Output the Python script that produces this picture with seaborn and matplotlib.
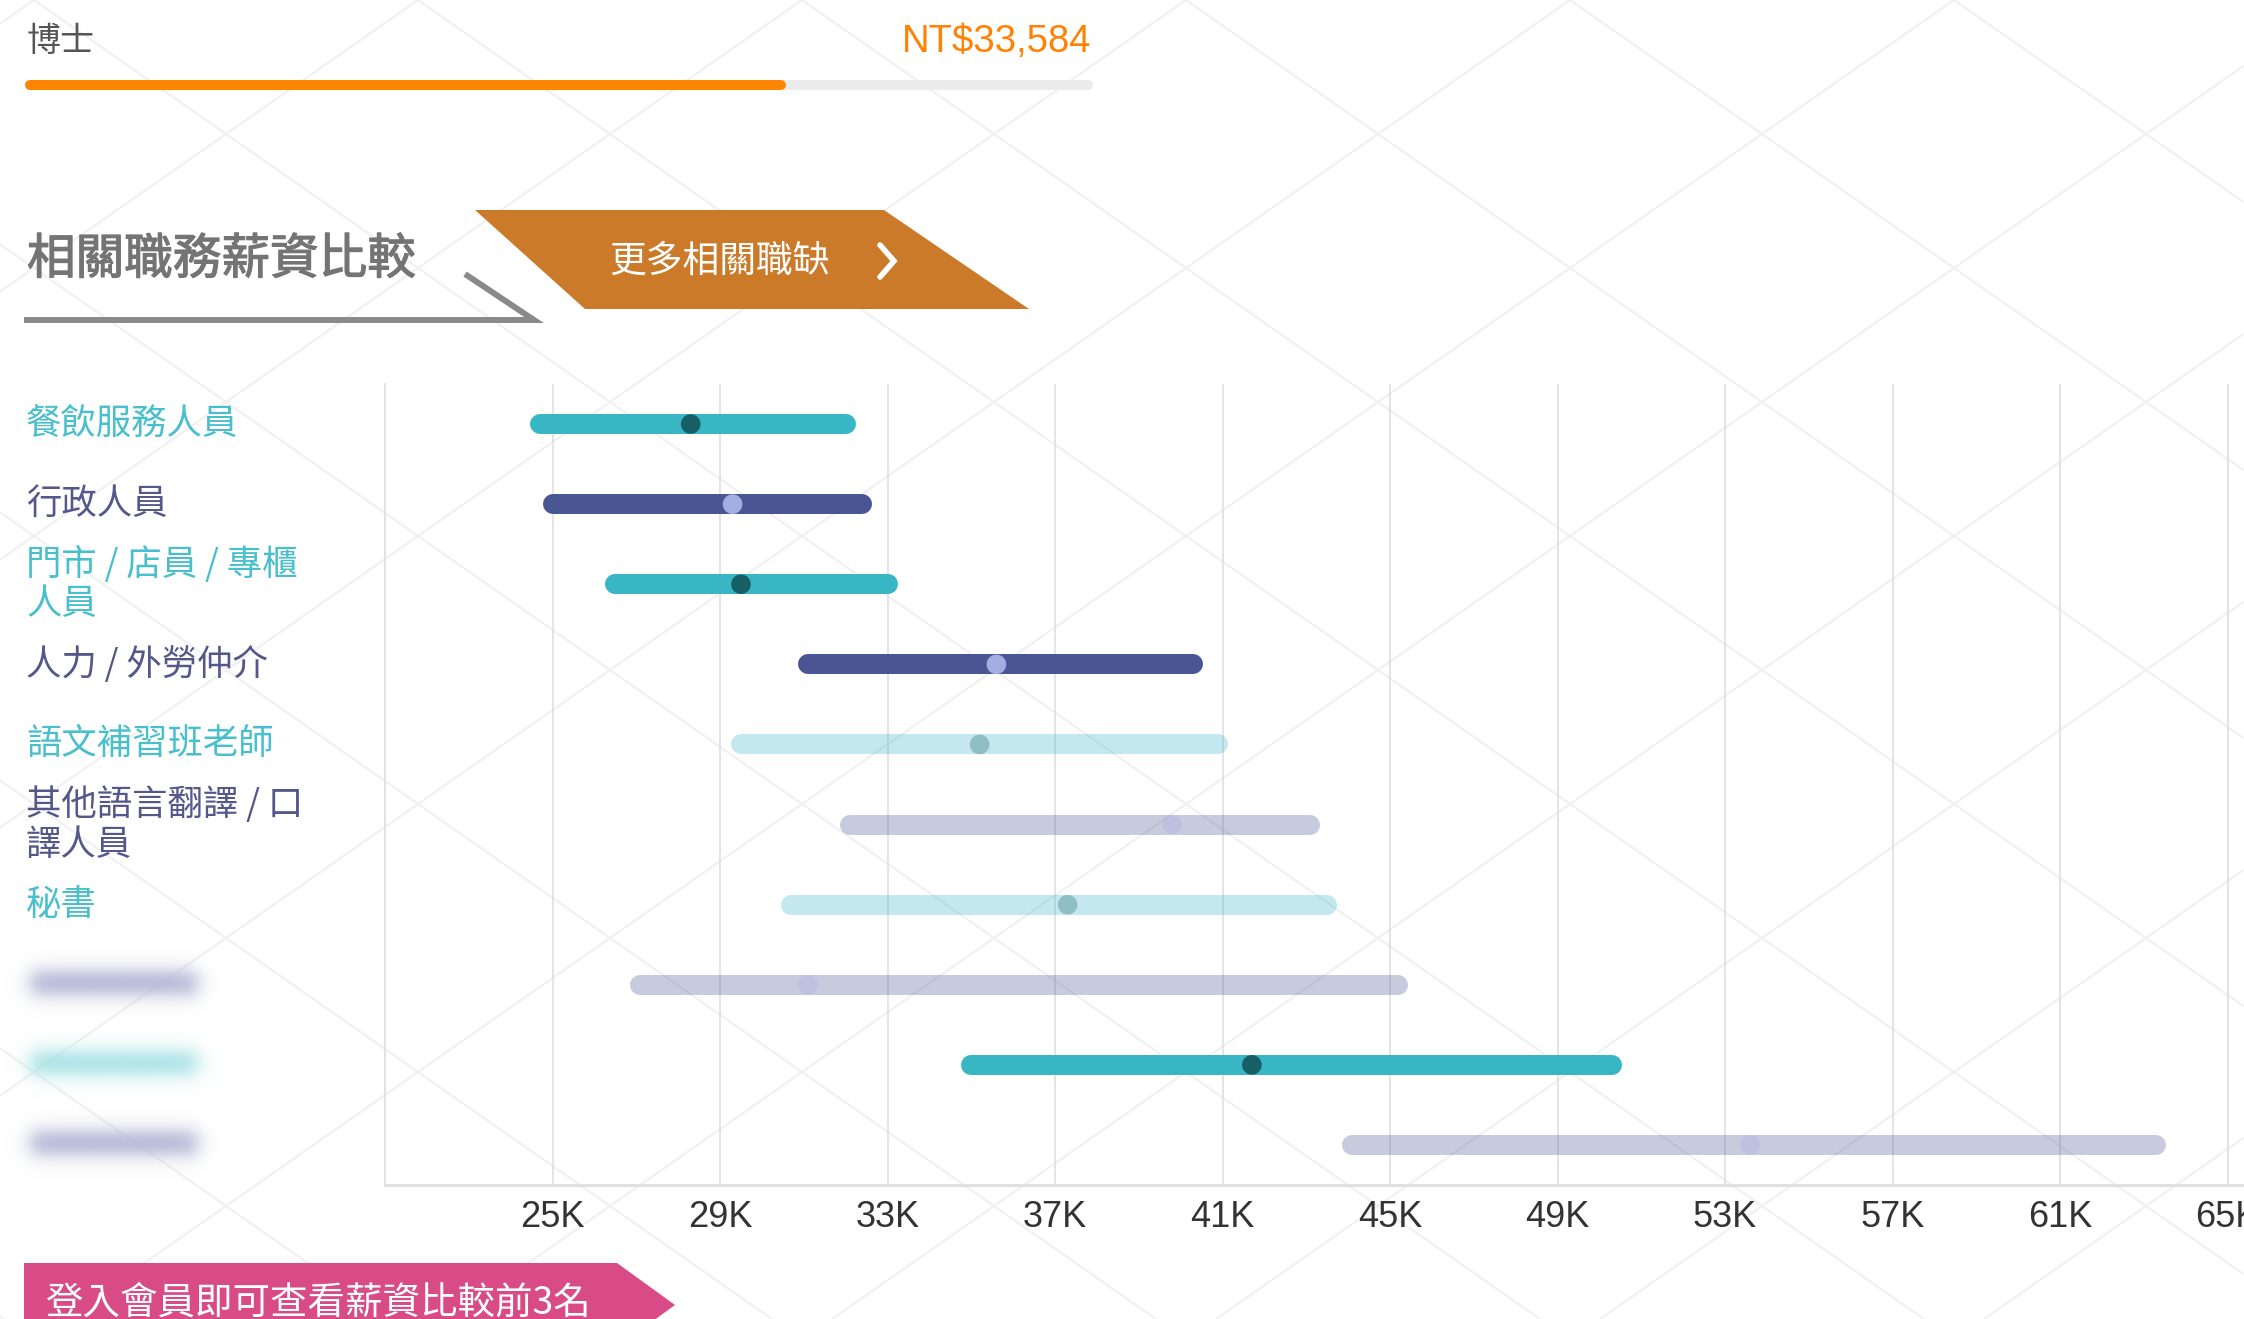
import numpy as np
import pandas as pd
import seaborn as sns
from matplotlib import pyplot as plt
from matplotlib import patheffects
from matplotlib.colors import to_rgb
from matplotlib.patches import Polygon

# --- data -----------------------------------------------------------------
jobs = [
    "餐飲服務人員",
    "行政人員",
    "門市 / 店員 / 專櫃\n人員",
    "人力 / 外勞仲介",
    "語文補習班老師",
    "其他語言翻譯 / 口\n譯人員",
    "秘書",
    "",
    "",
    "",
]
salary_low = [24700, 25000, 26500, 31100, 29500, 32100, 30700, 27100, 35000, 44100]
salary_high = [32000, 32400, 33000, 40300, 40900, 43100, 43500, 45200, 50300, 63300]
salary_mid = [28300, 29300, 29500, 35600, 35200, 39800, 37300, 31100, 41700, 53600]
series = ["teal", "navy", "teal", "navy", "teal", "navy", "teal", "navy", "teal", "navy"]
faded = [False, False, False, False, True, True, True, True, False, True]
hidden_rows = [7, 8, 9]

x_ticks = list(range(25000, 65001, 4000))
x_ticklabels = [f"{t // 1000}K" for t in x_ticks]

degree_name = "博士"
degree_salary = "NT$33,584"
degree_share = 0.71

title = "相關職務薪資比較"
button_text = "更多相關職缺"
login_text = "登入會員即可查看薪資比較前3名"

# --- styles ---------------------------------------------------------------
bar_colors = {"teal": "#39b6c4", "navy": "#4a5593"}
dot_colors = {"teal": "#175f66", "navy": "#a4ade2"}
label_colors = {"teal": "#48bfcc", "navy": "#53578a"}
blur_colors = {"teal": "#9edfe2", "navy": "#a9aed0"}

W, H = 2244, 1319
sns.set_theme(style="white")
plt.rcParams["font.family"] = ["Noto Sans CJK TC", "DejaVu Sans"]

fig = plt.figure(figsize=(W / 100, H / 100), dpi=100)
fig.patch.set_facecolor("white")

# background layer in pixel coordinates
bg = fig.add_axes([0, 0, 1, 1], zorder=0)
bg.set_xlim(0, W)
bg.set_ylim(H, 0)
bg.axis("off")

# faint diamond lattice
slope = 192 / 134
for k in range(-6, 12):
    x0 = 34 + 384 * k
    bg.plot([x0, x0 + H * slope], [0, H], color="#f1f1f1", lw=1.6, zorder=0)
    bg.plot([x0, x0 - H * slope], [0, H], color="#f1f1f1", lw=1.6, zorder=0)

# degree line at the top
bg.text(27, 42, degree_name, fontsize=24.5, color="#555555", va="center", ha="left")
bg.text(1091, 42, degree_salary, fontsize=27.5, color="#ff8205", va="center",
        ha="right", family=["Liberation Sans", "DejaVu Sans"])
pb = fig.add_axes([25 / W, 1 - 90 / H, (1093 - 25) / W, 10 / H], zorder=1)
pb.set_xlim(-0.005, 1.005)
pb.set_ylim(-1, 1)
pb.axis("off")
pb.hlines(0, 0, 1, color="#ececec", lw=7.2, capstyle="round")
pb.hlines(0, 0, degree_share, color="#ff8400", lw=7.2, capstyle="round")

# section title + underline
bg.text(27, 260, title, fontsize=35, color="#747474", va="center", ha="left",
        path_effects=[patheffects.withStroke(linewidth=0.9, foreground="#747474")])
bg.plot([24, 534, 465], [320, 320, 274], color="#8a8a8a", lw=4.3,
        solid_joinstyle="miter", solid_capstyle="butt")

# orange button
bg.add_patch(Polygon([(475, 210), (884, 210), (1029, 309), (585, 309)],
                     closed=True, facecolor="#cb7a2a", edgecolor="none"))
bg.text(609, 261, button_text, fontsize=26.5, color="white", va="center", ha="left")
bg.plot([880, 894, 880], [245, 261, 277], color="white", lw=4,
        solid_joinstyle="miter")

# pink login banner
bg.add_patch(Polygon([(24, 1263), (617, 1263), (675, 1305), (617, 1347), (24, 1347)],
                     closed=True, facecolor="#d94b87", edgecolor="none"))
bg.text(45, 1304, login_text, fontsize=27, color="white", va="center", ha="left")


def blur_bar(ax, x0, x1, yc, h, color, s=5.5):
    xs = np.arange(x0 - 35, x1 + 35, dtype=float)
    ys = np.arange(yc - 40, yc + 40, dtype=float)
    ax_ = 1 / (1 + np.exp(-(xs - x0) / s)) / (1 + np.exp(-(x1 - xs) / s))
    ay = 1 / (1 + np.exp(-(ys - (yc - h / 2)) / s)) / (1 + np.exp(-((yc + h / 2) - ys) / s))
    rgba = np.zeros((len(ys), len(xs), 4))
    rgba[..., :3] = to_rgb(color)
    rgba[..., 3] = np.outer(ay, ax_)
    ax.imshow(rgba, extent=(xs[0], xs[-1], ys[-1], ys[0]), aspect="auto",
              interpolation="bilinear", zorder=2)


for i in hidden_rows:
    blur_bar(bg, 30, 198, 424 + 80.1 * i - 2, 22, blur_colors[series[i]])
bg.set_xlim(0, W)
bg.set_ylim(H, 0)

# --- main range chart ------------------------------------------------------
df = pd.DataFrame({
    "job": jobs,
    "low": salary_low,
    "high": salary_high,
    "mid": salary_mid,
    "series": series,
    "faded": faded,
})
df["row"] = np.arange(len(df))

ax = fig.add_axes([385 / W, 1 - 1185 / H, (W - 385) / W + 0.002, (1185 - 384) / H],
                  zorder=2)
ax.set_facecolor("none")
ax.set_xlim(21000, 65500)
ax.set_ylim(len(df) - 0.5, -0.5)

for is_faded, alpha in [(False, 1.0), (True, 0.3)]:
    sub = df[df["faded"] == is_faded]
    ax.hlines(sub["row"], sub["low"], sub["high"],
              colors=[bar_colors[s] for s in sub["series"]],
              lw=14.4, alpha=alpha, capstyle="round", zorder=3)
    sns.scatterplot(data=sub, x="mid", y="row", hue="series", palette=dot_colors,
                    s=200, linewidth=0, alpha=alpha, legend=False, ax=ax, zorder=4)

ax.set_xticks(x_ticks)
ax.set_xticklabels(x_ticklabels, fontsize=26, color="#333333",
                   family=["Liberation Sans", "DejaVu Sans"])
ax.set_yticks(df["row"])
ax.set_yticklabels(df["job"], fontsize=25.5)
for lab, s in zip(ax.get_yticklabels(), df["series"]):
    lab.set_ha("left")
    lab.set_va("center")
    lab.set_color(label_colors[s])
    lab.set_linespacing(1.12)
ax.tick_params(axis="y", length=0, pad=(385 - 26) * 0.72)
ax.tick_params(axis="x", length=0, pad=11)
ax.set_xlabel("")
ax.set_ylabel("")

ax.grid(axis="x", color="#dcdcdc", lw=1.1)
ax.grid(axis="y", visible=False)
ax.set_axisbelow(True)
sns.despine(ax=ax, top=True, right=True)
ax.spines["left"].set_color("#dddddd")
ax.spines["left"].set_linewidth(1.2)
ax.spines["bottom"].set_color("#e0e0e0")
ax.spines["bottom"].set_linewidth(2.2)

fig.savefig("out.png", dpi=100)
